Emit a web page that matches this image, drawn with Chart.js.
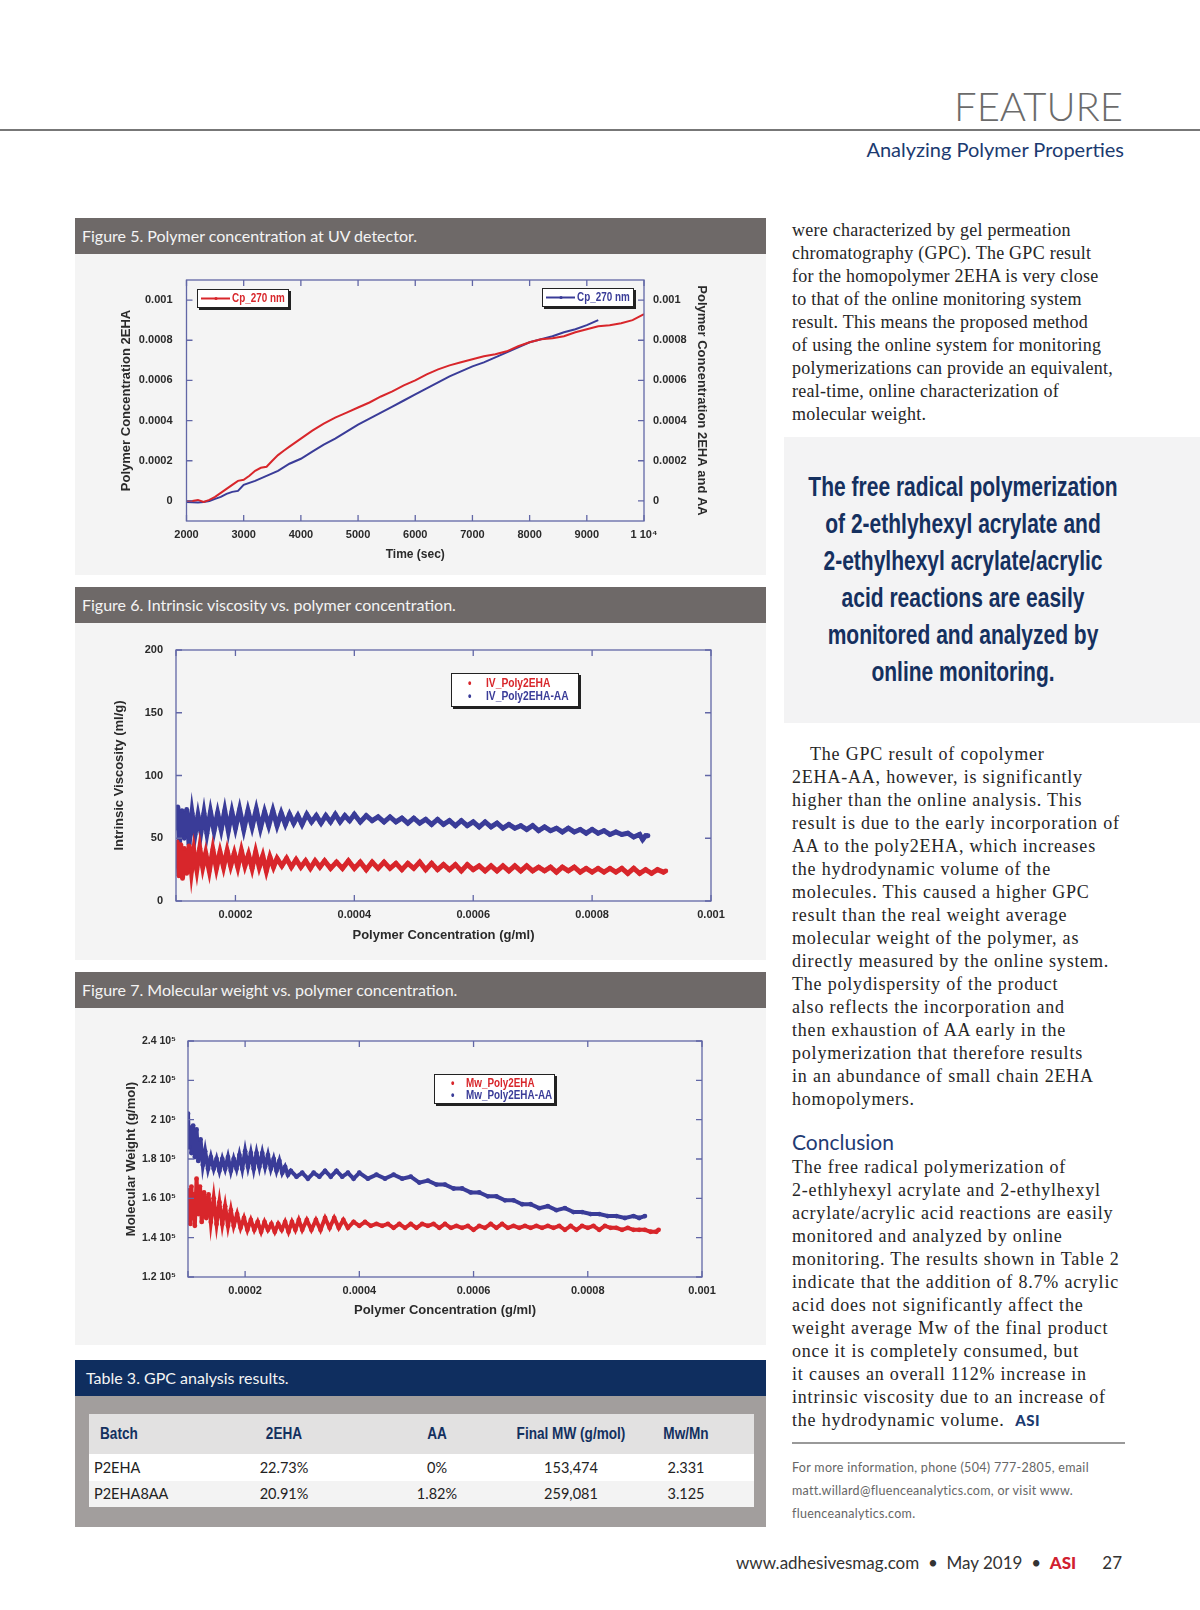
<!DOCTYPE html>
<html>
<head>
<meta charset="utf-8">
<script src="https://cdn.jsdelivr.net/npm/chart.js@4.4.1/dist/chart.umd.min.js"></script>
<style>
  body { margin:0; width:1200px; height:1610px; position:relative; background:#fff; overflow:hidden; font-family:Lato, "Noto Sans", sans-serif; }
  .abs { position:absolute; }
  .feature { right:77px; top:86px; font-size:40px; line-height:40px; font-weight:300; color:#6b6b6b; }
  .rule { left:0; top:129px; width:1200px; height:2px; background:#777; }
  .subhead { right:76px; top:139px; font-size:20px; line-height:20px; color:#1b3a70; }
  .figbar { left:75px; width:691px; height:36px; background:#6e6968; color:#f4f4f4; font-size:16px; line-height:36px; padding-left:7px; box-sizing:border-box; }
  .panel { left:75px; width:691px; background:#f4f4f4; }
  .legend { background:#fff; border:1px solid #222; box-shadow:2px 2px 0 #222; font-family:"Liberation Sans", Arial, sans-serif; font-weight:bold; font-size:13px; box-sizing:border-box; }
  .legend .t { position:absolute; white-space:nowrap; transform:scaleX(0.76); transform-origin:left center; line-height:14px; }
  .body { left:792px; font-family:"Liberation Serif", serif; font-size:18px; line-height:23px; color:#262626; white-space:nowrap; letter-spacing:0.25px; }
  .wide { letter-spacing:0.8px; }
  .quotebox { left:784px; top:437px; width:416px; height:286px; background:#f3f3f4; }
  .quote { left:713px; top:468px; width:500px; text-align:center; font-family:"Liberation Sans", Arial, sans-serif; font-weight:bold; font-size:28px; line-height:37px; color:#15305f; white-space:nowrap; transform:scaleX(0.75); transform-origin:center top; }
  .concl { left:792px; top:1130px; font-size:21px; line-height:24px; color:#1f3b73; }
  .inforule { left:792px; top:1442px; width:333px; height:2px; background:#999; }
  .info { left:792px; top:1456px; font-size:12.5px; line-height:23px; color:#666; letter-spacing:0.3px; white-space:nowrap; }
  .footer { right:78px; top:1552px; font-size:17px; line-height:22px; color:#333; white-space:nowrap; }
  .tbar { left:75px; top:1360px; width:691px; height:36px; background:#0f2e5f; color:#f4f4f4; font-size:16px; line-height:36px; padding-left:11px; box-sizing:border-box; }
  .tbody { left:75px; top:1396px; width:691px; height:131px; background:#a29e9d; }
  .cell { font-size:14.5px; color:#222; white-space:nowrap; }
  .hcell { font-family:"Liberation Sans", Arial, sans-serif; font-weight:bold; font-size:17px; color:#13305f; white-space:nowrap; transform:scaleX(0.8); }
</style>
</head>
<body>

<div class="abs feature">FEATURE</div>
<div class="abs rule"></div>
<div class="abs subhead">Analyzing Polymer Properties</div>

<div class="abs figbar" style="top:218px">Figure 5. Polymer concentration at UV detector.</div>
<div class="abs panel" style="top:254px;height:321px"><canvas id="fig5"></canvas></div>
<div class="abs legend" style="left:197px;top:289px;width:92px;height:19px">
  <svg width="32" height="17" style="position:absolute;left:2px;top:0"><line x1="1" y1="8.5" x2="30" y2="8.5" stroke="#d8262b" stroke-width="2"/><circle cx="16" cy="8.5" r="1.6" fill="#d8262b"/></svg>
  <span class="t" style="left:34px;top:1px;color:#d8262b" id="lg5a"></span>
</div>
<div class="abs legend" style="left:542px;top:288px;width:92px;height:19px">
  <svg width="32" height="17" style="position:absolute;left:2px;top:0"><line x1="1" y1="8.5" x2="30" y2="8.5" stroke="#3a3c98" stroke-width="2"/><circle cx="16" cy="8.5" r="1.6" fill="#3a3c98"/></svg>
  <span class="t" style="left:34px;top:1px;color:#3a3c98" id="lg5b"></span>
</div>

<div class="abs figbar" style="top:587px">Figure 6. Intrinsic viscosity vs. polymer concentration.</div>
<div class="abs panel" style="top:623px;height:337px"><canvas id="fig6"></canvas></div>
<div class="abs legend" style="left:451px;top:673px;width:128px;height:34px">
  <span class="t" style="left:16px;top:2px;color:#d8262b">•</span><span class="t" style="left:34px;top:2px;color:#d8262b;font-size:13.5px" id="lg6a"></span>
  <span class="t" style="left:16px;top:15px;color:#3a3c98">•</span><span class="t" style="left:34px;top:15px;color:#3a3c98;font-size:13.5px" id="lg6b"></span>
</div>

<div class="abs figbar" style="top:972px">Figure 7. Molecular weight vs. polymer concentration.</div>
<div class="abs panel" style="top:1008px;height:337px"><canvas id="fig7"></canvas></div>
<div class="abs legend" style="left:434px;top:1074px;width:121px;height:30px">
  <span class="t" style="left:16px;top:1px;color:#d8262b">•</span><span class="t" style="left:31px;top:1px;color:#d8262b" id="lg7a"></span>
  <span class="t" style="left:16px;top:13px;color:#3a3c98">•</span><span class="t" style="left:31px;top:13px;color:#3a3c98" id="lg7b"></span>
</div>

<div class="abs tbar">Table 3. GPC analysis results.</div>
<div class="abs tbody"></div>
<div id="table"></div>

<div class="abs body" style="top:219px">
<div>were characterized by gel permeation</div>
<div>chromatography (GPC). The GPC result</div>
<div>for the homopolymer 2EHA is very close</div>
<div>to that of the online monitoring system</div>
<div>result. This means the proposed method</div>
<div>of using the online system for monitoring</div>
<div>polymerizations can provide an equivalent,</div>
<div>real-time, online characterization of</div>
<div>molecular weight.</div>
</div>

<div class="abs quotebox"></div>
<div class="abs quote">
<div>The free radical polymerization</div>
<div>of 2-ethlyhexyl acrylate and</div>
<div>2-ethylhexyl acrylate/acrylic</div>
<div>acid reactions are easily</div>
<div>monitored and analyzed by</div>
<div>online monitoring.</div>
</div>

<div class="abs body wide" style="top:743px">
<div style="padding-left:18px">The GPC result of copolymer</div>
<div>2EHA-AA, however, is significantly</div>
<div>higher than the online analysis. This</div>
<div>result is due to the early incorporation of</div>
<div>AA to the poly2EHA, which increases</div>
<div>the hydrodynamic volume of the</div>
<div>molecules. This caused a higher GPC</div>
<div>result than the real weight average</div>
<div>molecular weight of the polymer, as</div>
<div>directly measured by the online system.</div>
<div>The polydispersity of the product</div>
<div>also reflects the incorporation and</div>
<div>then exhaustion of AA early in the</div>
<div>polymerization that therefore results</div>
<div>in an abundance of small chain 2EHA</div>
<div>homopolymers.</div>
</div>

<div class="abs concl">Conclusion</div>

<div class="abs body wide" style="top:1156px">
<div>The free radical polymerization of</div>
<div>2-ethlyhexyl acrylate and 2-ethylhexyl</div>
<div>acrylate/acrylic acid reactions are easily</div>
<div>monitored and analyzed by online</div>
<div>monitoring. The results shown in Table 2</div>
<div>indicate that the addition of 8.7% acrylic</div>
<div>acid does not significantly affect the</div>
<div>weight average Mw of the final product</div>
<div>once it is completely consumed, but</div>
<div>it causes an overall 112% increase in</div>
<div>intrinsic viscosity due to an increase of</div>
<div>the hydrodynamic volume.&nbsp; <span style="font-family:Lato,sans-serif;font-weight:900;font-size:15px;color:#1b3a70;letter-spacing:0.5px">ASI</span></div>
</div>

<div class="abs inforule"></div>
<div class="abs info">
<div>For more information, phone (504) 777-2805, email</div>
<div>matt.willard@fluenceanalytics.com, or visit www.</div>
<div>fluenceanalytics.com.</div>
</div>

<div class="abs footer">www.adhesivesmag.com &nbsp;•&nbsp; May 2019 &nbsp;•&nbsp; <span style="color:#d1202f;font-weight:900">ASI</span>&nbsp;&nbsp;&nbsp;&nbsp;&nbsp; 27</div>

<script>
// ---------- Figure 5: polymer concentration vs time ----------
const fig5Names = ['Cp_270 nm', 'Cp_270 nm'];
const fig5XTicks = [2000, 3000, 4000, 5000, 6000, 7000, 8000, 9000, 10000];
const fig5XLabels = ['2000', '3000', '4000', '5000', '6000', '7000', '8000', '9000', '1 10\u2074'];
const fig5YTicks = [0, 0.0002, 0.0004, 0.0006, 0.0008, 0.001];
const fig5YLabels = ['0', '0.0002', '0.0004', '0.0006', '0.0008', '0.001'];
// [time (sec), concentration] - 2EHA (left axis)
const fig5Red = [
  [2000, 0], [2100, 0], [2200, 0.000005], [2300, -0.000005], [2400, 0.000005], [2500, 0.00002],
  [2600, 0.00004], [2700, 0.00006], [2800, 0.00008], [2900, 0.0001], [3000, 0.000105], [3100, 0.000125],
  [3200, 0.00015], [3300, 0.000165], [3400, 0.00017], [3500, 0.0002], [3600, 0.000228], [3700, 0.00025],
  [3800, 0.00027], [3900, 0.00029], [4000, 0.00031], [4200, 0.00035], [4400, 0.000385], [4600, 0.000415],
  [4800, 0.00044], [5000, 0.000465], [5200, 0.00049], [5400, 0.00052], [5600, 0.000545], [5800, 0.000575],
  [6000, 0.0006], [6200, 0.00063], [6400, 0.000655], [6600, 0.000675], [6800, 0.00069], [7000, 0.000705],
  [7200, 0.00072], [7400, 0.00073], [7600, 0.000745], [7800, 0.00077], [8000, 0.00079], [8200, 0.000805],
  [8400, 0.00081], [8600, 0.00082], [8800, 0.00084], [9000, 0.000855], [9200, 0.00087], [9400, 0.000875],
  [9600, 0.000885], [9800, 0.0009], [10000, 0.00093]
];
// [time (sec), concentration] - 2EHA and AA (right axis)
const fig5Blue = [
  [2000, -0.000005], [2200, -0.000008], [2300, -0.000005], [2400, 0], [2500, 0.00001], [2600, 0.00002],
  [2700, 0.000035], [2800, 0.000045], [2900, 0.00005], [3000, 0.00008], [3200, 0.0001], [3400, 0.000125],
  [3600, 0.00015], [3800, 0.000185], [4000, 0.00021], [4200, 0.000245], [4400, 0.00028], [4600, 0.00031],
  [4800, 0.000345], [5000, 0.00038], [5200, 0.00041], [5400, 0.00044], [5600, 0.00047], [5800, 0.0005],
  [6000, 0.00053], [6200, 0.00056], [6400, 0.00059], [6600, 0.00062], [6800, 0.000645], [7000, 0.00067],
  [7200, 0.00069], [7400, 0.000715], [7600, 0.00074], [7800, 0.000765], [8000, 0.00079], [8200, 0.000805],
  [8400, 0.00082], [8600, 0.00084], [8800, 0.000855], [9000, 0.000875], [9200, 0.0009]
];

// ---------- Figure 6: intrinsic viscosity (ml/g) vs concentration (x10^-4 g/ml) ----------
const fig6Names = ['IV_Poly2EHA', 'IV_Poly2EHA-AA'];
const concTicks = [0.0001, 0.0002, 0.0004, 0.0006, 0.0008, 0.001];
const concLabels = ['', '0.0002', '0.0004', '0.0006', '0.0008', '0.001'];
const fig6YTicks = [0, 50, 100, 150, 200];
const fig6Red = [
  [1.00,30],[1.02,47],[1.05,20],[1.08,45],[1.11,18],[1.14,42],[1.18,22],[1.22,44],[1.26,24],[1.30,40],
  [1.35,25],[1.40,42],[1.45,27],[1.50,38],[1.56,24],[1.62,41],[1.68,26],[1.74,39],[1.80,27],[1.86,40],
  [1.92,28],[1.98,38],[2.04,27],[2.10,40],[2.16,28],[2.22,37],[2.28,26],[2.34,39],[2.40,27],[2.46,36],
  [2.52,24],[2.58,35],[2.64,27],[2.70,34],[2.78,28],[2.86,34],[2.94,27],[3.02,33],[3.10,27],[3.18,32],
  [3.26,26],[3.34,32],[3.42,27],[3.50,32],[3.60,26],[3.70,31],[3.80,26],[3.90,32],[4.00,26],[4.10,31],
  [4.20,25],[4.30,31],[4.40,26],[4.50,31],[4.60,26],[4.70,30],[4.80,25],[4.90,30],[5.00,26],[5.10,31],
  [5.20,25],[5.30,30],[5.40,25],[5.50,29],[5.60,25],[5.70,29],[5.80,24],[5.90,29],[6.00,25],[6.10,28],
  [6.20,24],[6.30,28],[6.40,24],[6.50,28],[6.60,24],[6.70,28],[6.80,24],[6.90,28],[7.00,24],[7.10,27],
  [7.20,24],[7.30,27],[7.40,23],[7.50,27],[7.60,24],[7.70,27],[7.80,23],[7.90,26],[8.00,23],[8.10,26],
  [8.20,23],[8.30,26],[8.40,23],[8.50,26],[8.60,22],[8.70,26],[8.80,22],[8.90,25],[9.00,22],[9.10,25],
  [9.20,23],[9.24,24]
];
const fig6Blue = [
  [1.00,58],[1.03,75],[1.06,47],[1.10,72],[1.14,50],[1.18,73],[1.22,45],[1.27,70],[1.32,53],[1.37,68],
  [1.42,55],[1.47,70],[1.52,54],[1.58,71],[1.64,56],[1.70,70],[1.76,57],[1.82,72],[1.88,56],[1.94,71],
  [2.00,58],[2.07,73],[2.14,57],[2.21,72],[2.28,59],[2.35,73],[2.42,58],[2.49,71],[2.56,60],[2.63,72],
  [2.70,60],[2.77,70],[2.84,61],[2.91,69],[2.98,62],[3.05,68],[3.12,61],[3.20,69],[3.28,63],[3.36,68],
  [3.44,62],[3.52,68],[3.60,63],[3.68,69],[3.76,63],[3.84,68],[3.92,64],[4.00,69],[4.10,63],[4.20,68],
  [4.30,64],[4.40,67],[4.50,63],[4.60,67],[4.70,63],[4.80,66],[4.90,62],[5.00,66],[5.10,62],[5.20,65],
  [5.30,61],[5.40,65],[5.50,61],[5.60,64],[5.70,60],[5.80,64],[5.90,60],[6.00,63],[6.10,59],[6.20,63],
  [6.30,59],[6.40,62],[6.50,58],[6.60,61],[6.70,58],[6.80,60],[6.90,57],[7.00,60],[7.10,56],[7.20,59],
  [7.30,56],[7.40,58],[7.50,55],[7.60,58],[7.70,55],[7.80,57],[7.90,54],[8.00,57],[8.10,54],[8.20,56],
  [8.30,53],[8.40,55],[8.50,53],[8.60,54],[8.70,51],[8.80,53],[8.85,49],[8.90,52],[8.94,52]
];

// ---------- Figure 7: Mw (x10^5 g/mol) vs concentration (x10^-4 g/ml) ----------
const fig7Names = ['Mw_Poly2EHA', 'Mw_Poly2EHA-AA'];
const fig7YTicks = [120000, 140000, 160000, 180000, 200000, 220000, 240000];
const fig7YLabels = ['1.2 10\u2075', '1.4 10\u2075', '1.6 10\u2075', '1.8 10\u2075', '2 10\u2075', '2.2 10\u2075', '2.4 10\u2075'];
const fig7Red = [
  [1.00,1.49],[1.02,1.64],[1.04,1.47],[1.06,1.66],[1.08,1.50],[1.10,1.62],[1.12,1.46],[1.15,1.70],[1.18,1.52],[1.21,1.66],
  [1.24,1.48],[1.28,1.63],[1.32,1.50],[1.36,1.62],[1.40,1.48],[1.45,1.60],[1.50,1.47],[1.55,1.58],[1.60,1.47],[1.65,1.56],
  [1.70,1.46],[1.75,1.54],[1.80,1.46],[1.86,1.52],[1.92,1.45],[1.98,1.50],[2.04,1.44],[2.10,1.49],[2.16,1.44],[2.22,1.48],
  [2.28,1.43],[2.34,1.48],[2.40,1.44],[2.46,1.47],[2.52,1.43],[2.58,1.47],[2.64,1.44],[2.70,1.48],[2.76,1.43],[2.82,1.48],
  [2.88,1.44],[2.94,1.49],[3.00,1.44],[3.08,1.49],[3.16,1.44],[3.24,1.49],[3.32,1.44],[3.40,1.50],[3.48,1.45],[3.56,1.50],
  [3.64,1.45],[3.72,1.49],[3.80,1.45],[3.90,1.48],[4.00,1.46],[4.10,1.48],[4.20,1.46],[4.30,1.47],[4.40,1.46],[4.50,1.47],
  [4.60,1.45],[4.70,1.47],[4.80,1.45],[4.90,1.47],[5.00,1.45],[5.10,1.47],[5.20,1.46],[5.30,1.47],[5.40,1.45],[5.50,1.47],
  [5.60,1.45],[5.70,1.46],[5.80,1.45],[5.90,1.46],[6.00,1.44],[6.10,1.46],[6.20,1.45],[6.30,1.47],[6.40,1.45],[6.50,1.47],
  [6.60,1.45],[6.70,1.46],[6.80,1.45],[6.90,1.46],[7.00,1.45],[7.10,1.46],[7.20,1.45],[7.30,1.46],[7.40,1.45],[7.50,1.46],
  [7.60,1.44],[7.70,1.46],[7.80,1.44],[7.90,1.46],[8.00,1.45],[8.10,1.46],[8.20,1.44],[8.30,1.46],[8.40,1.45],[8.50,1.45],
  [8.60,1.44],[8.70,1.45],[8.80,1.44],[8.90,1.44],[9.00,1.44],[9.10,1.43],[9.20,1.43],[9.24,1.44]
];
const fig7Blue = [
  [1.00,2.03],[1.02,1.86],[1.04,1.96],[1.06,1.83],[1.09,1.97],[1.12,1.81],[1.15,1.95],[1.18,1.79],[1.22,1.90],[1.26,1.77],
  [1.30,1.84],[1.35,1.75],[1.40,1.81],[1.45,1.75],[1.50,1.80],[1.55,1.74],[1.60,1.80],[1.65,1.75],[1.70,1.81],[1.75,1.74],
  [1.80,1.80],[1.85,1.75],[1.90,1.82],[1.95,1.75],[2.00,1.84],[2.05,1.76],[2.10,1.83],[2.15,1.75],[2.20,1.83],[2.25,1.76],
  [2.30,1.83],[2.35,1.76],[2.40,1.82],[2.45,1.75],[2.50,1.80],[2.55,1.74],[2.60,1.79],[2.65,1.73],[2.70,1.76],[2.75,1.72],
  [2.80,1.74],[2.90,1.71],[3.00,1.73],[3.10,1.70],[3.20,1.73],[3.30,1.71],[3.40,1.74],[3.50,1.71],[3.60,1.74],[3.70,1.71],
  [3.80,1.73],[3.90,1.70],[4.00,1.73],[4.15,1.70],[4.30,1.72],[4.45,1.70],[4.60,1.72],[4.75,1.70],[4.90,1.71],[5.05,1.68],
  [5.20,1.69],[5.35,1.67],[5.50,1.67],[5.65,1.65],[5.80,1.65],[5.95,1.63],[6.10,1.63],[6.25,1.61],[6.40,1.61],[6.55,1.59],
  [6.70,1.59],[6.85,1.57],[7.00,1.57],[7.15,1.55],[7.30,1.56],[7.45,1.54],[7.60,1.55],[7.75,1.53],[7.90,1.53],[8.05,1.52],
  [8.20,1.52],[8.35,1.51],[8.50,1.51],[8.65,1.50],[8.80,1.51],[8.90,1.50],[9.00,1.51]
];

// ---------- Table 3 ----------
const tableHeaders = ['Batch', '2EHA', 'AA', 'Final MW (g/mol)', 'Mw/Mn'];
const tableRows = [
  ['P2EHA', '22.73%', '0%', '153,474', '2.331'],
  ['P2EHA8AA', '20.91%', '1.82%', '259,081', '3.125']
];

const RED = '#d8262b';
const BLUE = '#3a3c98';

document.getElementById('lg5a').textContent = fig5Names[0];
document.getElementById('lg5b').textContent = fig5Names[1];
document.getElementById('lg6a').textContent = fig6Names[0];
document.getElementById('lg6b').textContent = fig6Names[1];
document.getElementById('lg7a').textContent = fig7Names[0];
document.getElementById('lg7b').textContent = fig7Names[1];

// table cells
(function () {
  const host = document.getElementById('table');
  const colX = [100, 284, 437, 571, 686];
  const rowTop = [1414, 1454, 1481];
  const rowH = [40, 27, 26];
  const rowBg = ['#e2e1e1', '#ffffff', '#f3f3f3'];
  rowTop.forEach((t, r) => {
    const bg = document.createElement('div');
    bg.className = 'abs';
    bg.style.cssText = `left:89px;top:${t}px;width:665px;height:${rowH[r]}px;background:${rowBg[r]}`;
    host.appendChild(bg);
    const cells = r === 0 ? tableHeaders : tableRows[r - 1];
    cells.forEach((txt, c) => {
      const d = document.createElement('div');
      d.className = 'abs ' + (r === 0 ? 'hcell' : 'cell');
      d.textContent = txt;
      d.style.top = t + 'px';
      d.style.lineHeight = rowH[r] + 'px';
      if (c === 0) { d.style.left = (colX[0] - (r === 0 ? 0 : 6)) + 'px'; d.style.transformOrigin = 'left center'; }
      else { d.style.left = (colX[c] - 100) + 'px'; d.style.width = '200px'; d.style.textAlign = 'center'; }
      host.appendChild(d);
    });
  });
})();

Chart.defaults.font.family = '"Liberation Sans", Arial, sans-serif';
Chart.defaults.color = '#2a2a2a';

// frame + inward tick marks on all four sides
const framePlugin = {
  id: 'frame',
  afterDatasetsDraw(chart) {
    const { ctx, chartArea: a, scales } = chart;
    const L = 6;
    ctx.save();
    ctx.strokeStyle = '#6267a6';
    ctx.lineWidth = 1.3;
    ctx.strokeRect(a.left, a.top, a.right - a.left, a.bottom - a.top);
    ctx.beginPath();
    scales.x.ticks.forEach(t => {
      const p = scales.x.getPixelForValue(t.value);
      ctx.moveTo(p, a.bottom); ctx.lineTo(p, a.bottom - L);
      ctx.moveTo(p, a.top); ctx.lineTo(p, a.top + L);
    });
    scales.y.ticks.forEach(t => {
      const p = scales.y.getPixelForValue(t.value);
      ctx.moveTo(a.left, p); ctx.lineTo(a.left + L, p);
      ctx.moveTo(a.right, p); ctx.lineTo(a.right - L, p);
    });
    ctx.stroke();
    ctx.restore();
  }
};

const tickFont = { size: 11, weight: 'bold' };
const titleFont = { size: 13, weight: 'bold' };

function fixedTicks(values) {
  return s => { s.ticks = values.map(v => ({ value: v })); };
}

function linScale(opts) {
  return Object.assign({
    type: 'linear',
    grid: { display: false, drawTicks: false },
    border: { display: false },
  }, opts);
}

// Figure 5
new Chart(document.getElementById('fig5'), {
  type: 'scatter',
  data: {
    datasets: [
      { label: fig5Names[0], data: fig5Red.map(p => ({ x: p[0], y: p[1] })), yAxisID: 'y',
        showLine: true, borderColor: RED, backgroundColor: RED, borderWidth: 2, pointRadius: 0 },
      { label: fig5Names[1], data: fig5Blue.map(p => ({ x: p[0], y: p[1] })), yAxisID: 'y2',
        showLine: true, borderColor: BLUE, backgroundColor: BLUE, borderWidth: 2, pointRadius: 0 }
    ]
  },
  options: {
    responsive: true, maintainAspectRatio: false, animation: false,
    layout: { padding: { left: 44, right: 57, top: 26, bottom: 13 } },
    plugins: { legend: { display: false }, tooltip: { enabled: false } },
    scales: {
      x: linScale({
        position: 'bottom', min: 2000, max: 10000,
        afterBuildTicks: fixedTicks(fig5XTicks),
        afterFit: s => { s.height = 41; },
        ticks: { font: tickFont, padding: 7, maxRotation: 0, autoSkip: false,
          callback: v => fig5XLabels[fig5XTicks.indexOf(v)] },
        title: { display: true, text: 'Time (sec)', font: { size: 12, weight: 'bold' }, padding: 0 }
      }),
      y: linScale({
        position: 'left', min: -0.0001, max: 0.0011,
        afterBuildTicks: fixedTicks(fig5YTicks),
        afterFit: s => { s.width = 67.5; },
        ticks: { font: tickFont, padding: 14, autoSkip: false,
          callback: v => fig5YLabels[fig5YTicks.indexOf(v)] },
        title: { display: true, text: 'Polymer Concentration 2EHA', font: titleFont, padding: 0 }
      }),
      y2: linScale({
        position: 'right', min: -0.0001, max: 0.0011,
        afterBuildTicks: fixedTicks(fig5YTicks),
        afterFit: s => { s.width = 65; },
        ticks: { font: tickFont, padding: 9, autoSkip: false,
          callback: v => fig5YLabels[fig5YTicks.indexOf(v)] },
        title: { display: true, text: 'Polymer Concentration 2EHA and AA', font: titleFont, padding: 0 }
      })
    }
  },
  plugins: [framePlugin]
});

function concScale(height) {
  return linScale({
    position: 'bottom', min: 0.0001, max: 0.001,
    afterBuildTicks: fixedTicks(concTicks),
    afterFit: s => { s.height = height; },
    ticks: { font: tickFont, padding: 7, maxRotation: 0, autoSkip: false,
      callback: v => concLabels[concTicks.indexOf(v)] },
    title: { display: true, text: 'Polymer Concentration (g/ml)', font: titleFont, padding: 0 }
  });
}

function bandSet(label, pts, xs, ys, color, width) {
  return { label, data: pts.map(p => ({ x: p[0] * xs, y: p[1] * ys })), showLine: true,
    borderColor: color, backgroundColor: color, borderWidth: width, pointRadius: 2.4, pointBorderWidth: 0 };
}

// Figure 6
new Chart(document.getElementById('fig6'), {
  type: 'scatter',
  data: { datasets: [
    bandSet(fig6Names[0], fig6Red, 1e-4, 1, RED, 5),
    bandSet(fig6Names[1], fig6Blue, 1e-4, 1, BLUE, 5)
  ] },
  options: {
    responsive: true, maintainAspectRatio: false, animation: false,
    layout: { padding: { left: 37, right: 55, top: 27, bottom: 17 } },
    plugins: { legend: { display: false }, tooltip: { enabled: false } },
    scales: {
      x: concScale(42),
      y: linScale({
        position: 'left', min: 0, max: 200,
        afterBuildTicks: fixedTicks(fig6YTicks),
        afterFit: s => { s.width = 64; },
        ticks: { font: tickFont, padding: 13, autoSkip: false },
        title: { display: true, text: 'Intrinsic Viscosity (ml/g)', font: titleFont, padding: 0 }
      })
    }
  },
  plugins: [framePlugin]
});

// Figure 7
new Chart(document.getElementById('fig7'), {
  type: 'scatter',
  data: { datasets: [
    bandSet(fig7Names[0], fig7Red, 1e-4, 1e5, RED, 4),
    bandSet(fig7Names[1], fig7Blue, 1e-4, 1e5, BLUE, 4)
  ] },
  options: {
    responsive: true, maintainAspectRatio: false, animation: false,
    layout: { padding: { left: 49, right: 64, top: 33, bottom: 27 } },
    plugins: { legend: { display: false }, tooltip: { enabled: false } },
    scales: {
      x: concScale(41),
      y: linScale({
        position: 'left', min: 120000, max: 240000,
        afterBuildTicks: fixedTicks(fig7YTicks),
        afterFit: s => { s.width = 64; },
        ticks: { font: { size: 10.5, weight: 'bold' }, padding: 12, autoSkip: false,
          callback: v => fig7YLabels[fig7YTicks.indexOf(v)] },
        title: { display: true, text: 'Molecular Weight (g/mol)', font: titleFont, padding: 0 }
      })
    }
  },
  plugins: [framePlugin]
});
</script>
</body>
</html>
